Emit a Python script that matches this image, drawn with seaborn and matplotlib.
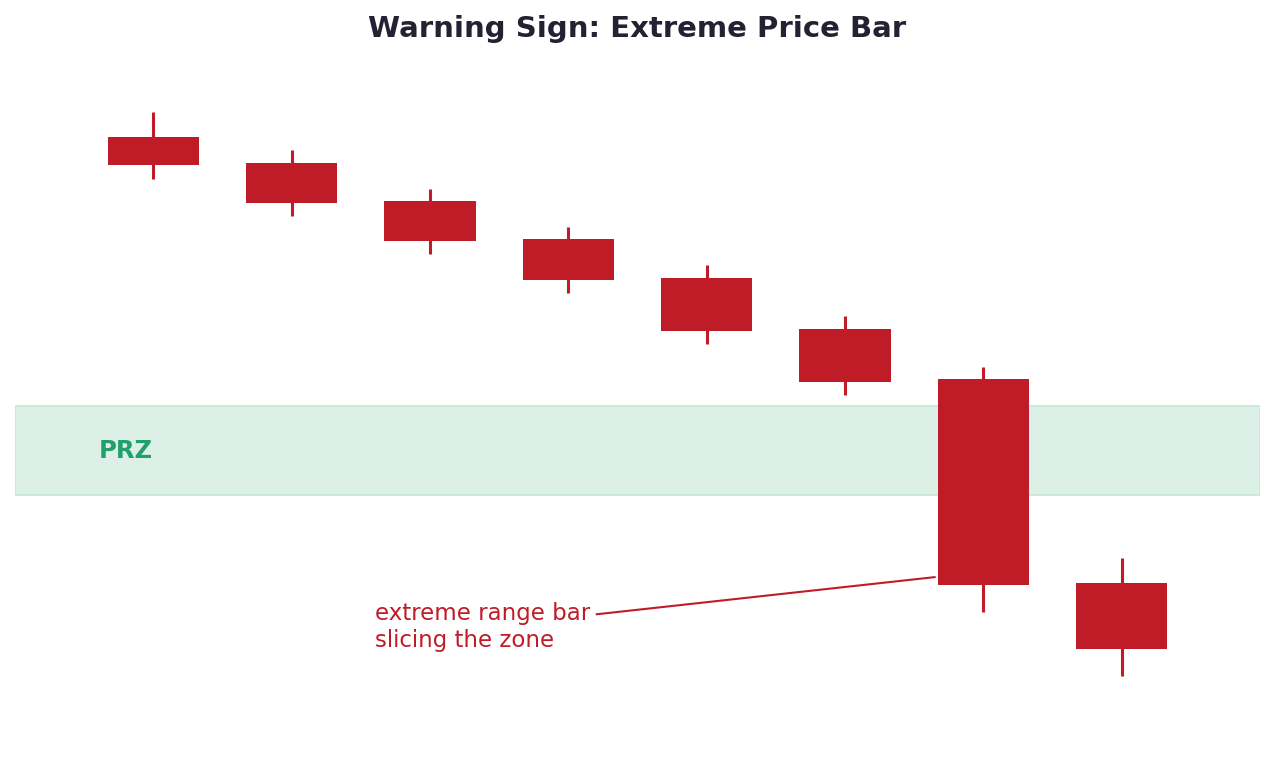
import matplotlib
matplotlib.use("Agg")
import matplotlib.pyplot as plt
import seaborn as sns
import numpy as np

# Candle data (bearish sequence)
bars = [0, 1, 2, 3, 4, 5, 6, 7]
opens = [88.7, 84.9, 79.3, 73.7, 67.9, 60.4, 53.1, 23.1]
closes = [84.6, 79.0, 73.4, 67.6, 60.1, 52.6, 22.8, 13.4]
highs = [92.4, 86.8, 81.0, 75.4, 69.9, 62.4, 54.9, 26.8]
lows = [82.5, 77.1, 71.5, 65.7, 58.2, 50.7, 18.8, 9.4]
prz_low, prz_high = 36.0, 49.1

sns.set_theme(style="white")
plt.rcParams['font.family'] = ['DejaVu Sans']

red = "#C01C28"
fig = plt.figure(figsize=(12.75, 7.65), dpi=100)
ax = fig.add_axes([15/1275, 1-740/765, 1245/1275, 680/765])

ax.axhspan(prz_low, prz_high, facecolor="#DDF0E7", edgecolor="#C5E8D6", lw=1.2, zorder=0)
ax.text(-0.2, (prz_low + prz_high)/2, "PRZ", color="#22A06B", fontsize=17.5,
        fontweight="bold", ha="center", va="center")

x = np.array(bars)
o = np.array(opens); c = np.array(closes)
ax.vlines(x, lows, highs, color=red, lw=2.2, zorder=2)
ax.bar(x, np.abs(o - c), bottom=np.minimum(o, c), width=0.66, color=red, zorder=3, linewidth=0)

ax.annotate("extreme range bar\nslicing the zone", xy=(6 - 0.33, 24.0), xytext=(1.604, 16.65),
            color=red, fontsize=16.5, ha="left", va="center",
            arrowprops=dict(arrowstyle="-", color=red, lw=1.5))

ax.set_xlim(-1, 8)
ax.set_ylim(0, 100)
ax.set_axis_off()

fig.text(0.5, 1 - 29/765, "Warning Sign: Extreme Price Bar", ha="center", va="center",
         fontsize=21, fontweight="bold", color="#222233")

fig.savefig("out.png", dpi=100)
